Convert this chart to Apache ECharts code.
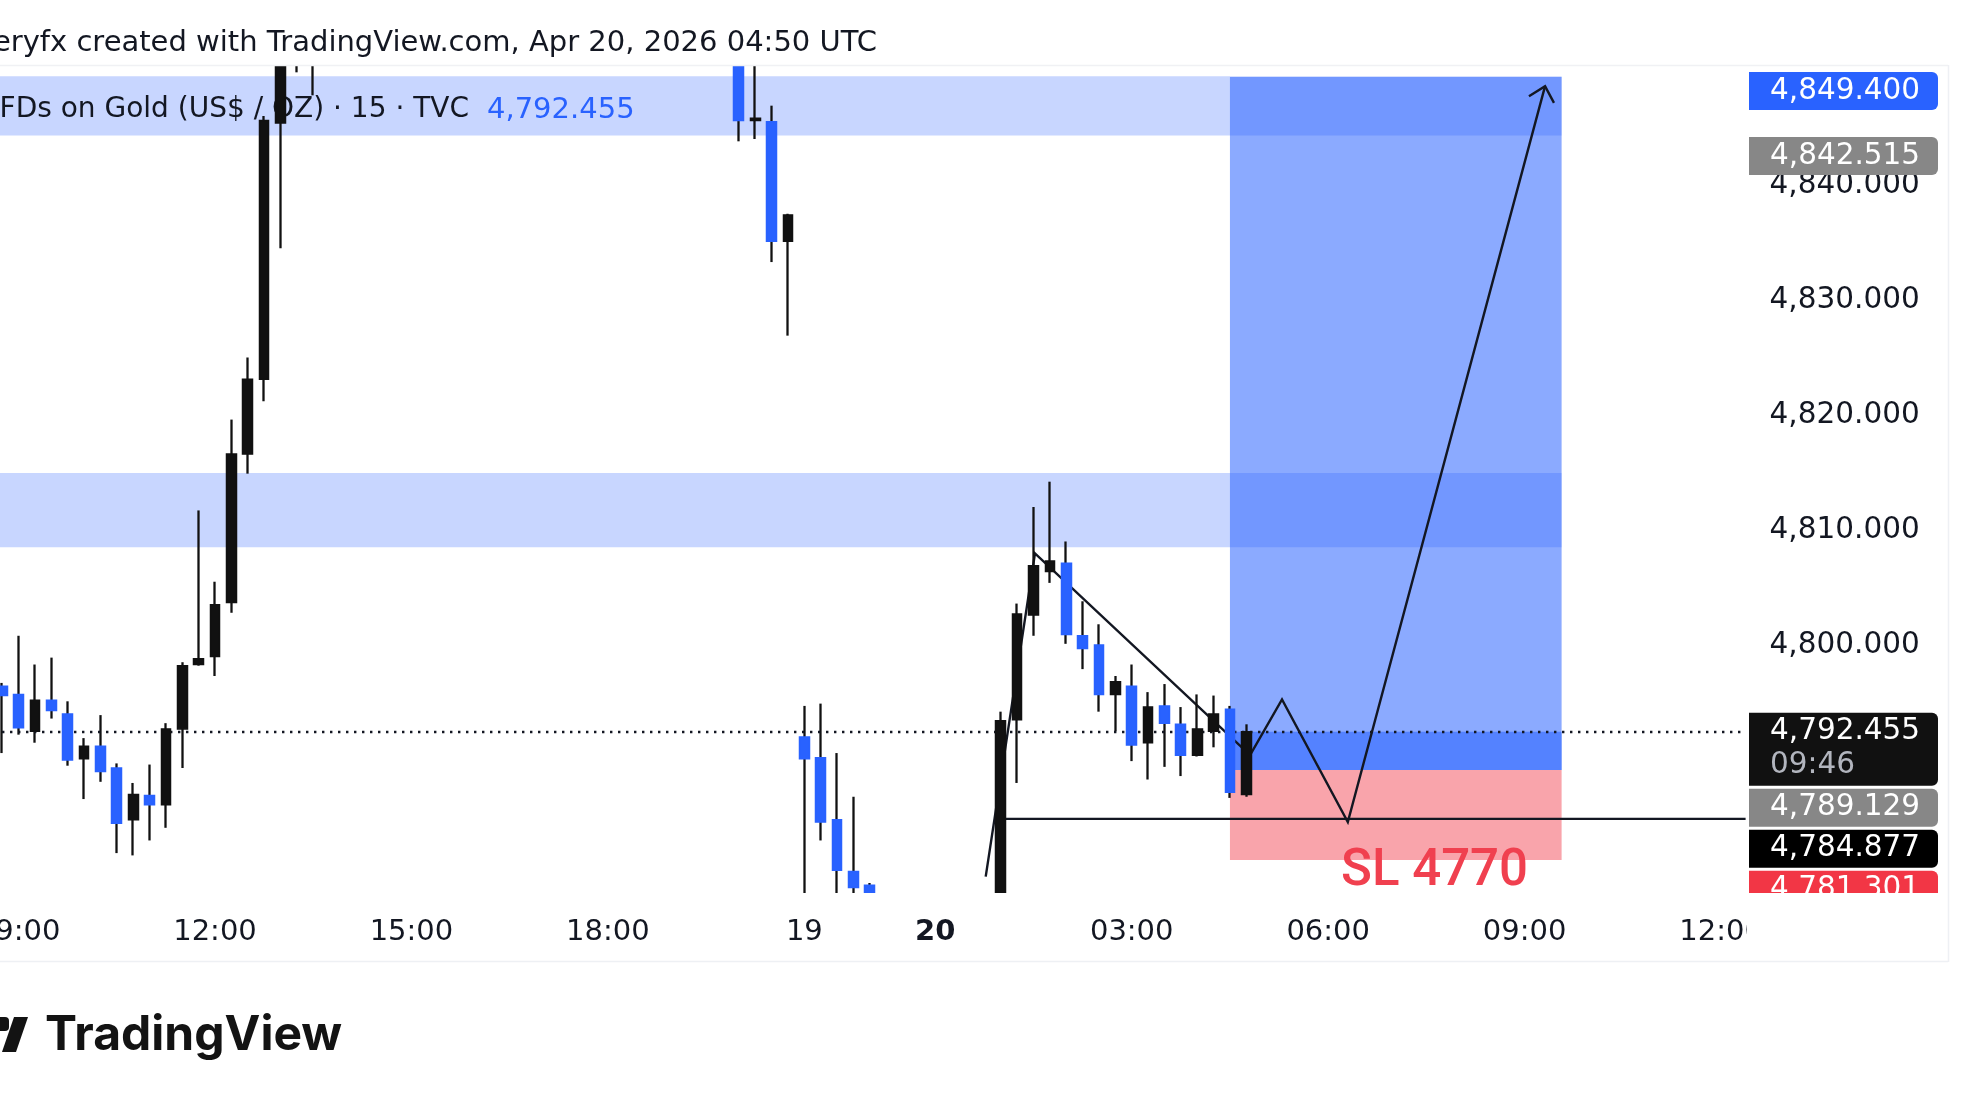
<!DOCTYPE html>
<html>
<head>
<meta charset="utf-8">
<script src="https://cdn.jsdelivr.net/npm/echarts@6/dist/echarts.min.js"></script>
<style>
  html, body { margin: 0; padding: 0; background: #fff; }
  #chart { width: 1973px; height: 1110px; }
</style>
</head>
<body>
<div id="chart"></div>
<script>
// 15m bars: Apr 17 08:45-20:45, Apr 19 22:00-23:45, Apr 20 00:00-12:15
const sessions = [['17', 35, 83], ['19', 88, 95], ['20', 0, 49]];
const barTimes = [];
sessions.forEach(([day, from, to]) => {
  for (let q = from; q <= to; q++) {
    const h = String(Math.floor(q / 4)).padStart(2, '0');
    const m = String((q % 4) * 15).padStart(2, '0');
    barTimes.push(day + ' ' + h + ':' + m);
  }
});

const tickTimes = ['17 09:00', '17 12:00', '17 15:00', '17 18:00', '19 22:00', '20 00:00', '20 03:00', '20 06:00', '20 09:00', '20 12:00'];
const tickTexts = ['09:00', '12:00', '15:00', '18:00', '19', '20', '03:00', '06:00', '09:00', '12:00'];
const boldTicks = ['20'];

// [open, close, low, high]
const ohlc = [
  [4796.4, 4795.6, 4790.6, 4796.7], [4795.7, 4792.8, 4792.2, 4800.8], [4792.5, 4795.2, 4791.5, 4798.3],
  [4795.2, 4794.3, 4793.6, 4798.9], [4794.0, 4790.0, 4789.5, 4795.1], [4790.1, 4791.2, 4786.6, 4791.9],
  [4791.2, 4789.0, 4788.1, 4793.9], [4789.3, 4784.5, 4781.9, 4789.7], [4784.8, 4787.0, 4781.7, 4788.0],
  [4786.9, 4786.1, 4783.0, 4789.6], [4786.1, 4792.7, 4784.1, 4793.2], [4792.7, 4798.2, 4789.3, 4798.5],
  [4798.3, 4798.8, 4798.2, 4811.7], [4799.0, 4803.5, 4797.3, 4805.5], [4803.7, 4816.6, 4802.8, 4819.6],
  [4816.6, 4823.1, 4814.9, 4825.0], [4823.1, 4845.6, 4821.2, 4846.0], [4845.4, 4856.0, 4834.5, 4858.5],
  [4856.0, 4858.2, 4849.8, 4861.0], [4858.2, 4862.0, 4847.8, 4864.5], [4862.0, 4866.5, 4859.8, 4868.2],
  [4866.5, 4864.1, 4862.7, 4869.4], [4864.1, 4870.3, 4863.5, 4872.0], [4870.3, 4873.8, 4868.9, 4875.6],
  [4873.8, 4871.2, 4869.7, 4876.4], [4871.2, 4868.0, 4866.1, 4872.9], [4868.0, 4869.9, 4865.4, 4871.8],
  [4869.9, 4874.5, 4868.6, 4876.0], [4874.5, 4878.2, 4873.1, 4880.7], [4878.2, 4876.0, 4874.4, 4879.5],
  [4876.0, 4872.3, 4870.8, 4877.2], [4872.3, 4873.9, 4869.5, 4875.1], [4873.9, 4869.4, 4867.6, 4874.8],
  [4869.4, 4866.2, 4864.9, 4871.0], [4866.2, 4867.8, 4863.8, 4869.3], [4867.8, 4864.5, 4862.2, 4868.9],
  [4864.5, 4861.3, 4859.7, 4866.0], [4861.3, 4863.0, 4858.9, 4864.6], [4863.0, 4859.4, 4857.8, 4864.1],
  [4859.4, 4860.8, 4856.6, 4862.3], [4860.8, 4857.1, 4855.9, 4862.0], [4857.1, 4858.6, 4854.8, 4859.9],
  [4858.6, 4855.3, 4853.6, 4860.2], [4855.3, 4856.9, 4852.8, 4858.1], [4856.9, 4853.2, 4851.6, 4858.4],
  [4853.2, 4845.6, 4843.8, 4854.0], [4845.6, 4845.8, 4844.0, 4851.5], [4845.5, 4835.1, 4833.3, 4846.9],
  [4835.1, 4837.4, 4826.9, 4837.5],
  [4792.0, 4790.1, 4776.5, 4794.7], [4790.2, 4784.6, 4783.0, 4794.9], [4784.8, 4780.4, 4777.2, 4790.6],
  [4780.3, 4778.9, 4776.8, 4786.8], [4779.1, 4776.6, 4775.2, 4779.3], [4776.6, 4774.1, 4772.5, 4777.4],
  [4774.1, 4771.8, 4770.2, 4775.9], [4771.8, 4773.5, 4769.6, 4774.6], [4773.5, 4770.9, 4769.3, 4774.8],
  [4770.9, 4772.6, 4768.5, 4773.9], [4772.6, 4775.2, 4771.4, 4776.8], [4775.2, 4774.6, 4772.0, 4777.3],
  [4774.6, 4793.4, 4773.8, 4794.2], [4793.5, 4802.7, 4788.0, 4803.6], [4802.6, 4806.9, 4800.8, 4812.0],
  [4806.4, 4807.3, 4805.4, 4814.2], [4807.1, 4800.9, 4800.1, 4809.0], [4800.8, 4799.7, 4797.9, 4803.8],
  [4800.0, 4795.7, 4794.2, 4801.8], [4795.7, 4796.8, 4792.5, 4797.3], [4796.4, 4791.3, 4789.9, 4798.3],
  [4791.5, 4794.6, 4788.3, 4795.9], [4794.7, 4793.2, 4789.4, 4796.6], [4793.1, 4790.4, 4788.6, 4794.6],
  [4790.4, 4792.7, 4790.3, 4795.7], [4792.5, 4794.0, 4791.1, 4795.6], [4794.4, 4787.2, 4786.7, 4794.7],
  [4787.0, 4792.455, 4786.8, 4793.1]
];
const lastPrice = 4792.455;

const yTicks = [4800, 4810, 4820, 4830, 4840];

// drawings, x in bar index units
const zones = [[-0.5, 95.26, 4844.3, 4849.45], [-0.5, 95.26, 4808.5, 4814.95]];
const boxFrom = 75.0, boxTo = 95.26;
const entryPrice = 4789.129, targetPrice = 4849.4, stopPrice = 4781.301;
const pathPoints = [[60.08, 4779.85], [63.09, 4807.97], [76.23, 4790.43], [78.18, 4795.26], [82.2, 4784.6], [94.25, 4848.6]];
const hLine = [61, 106.5, 4784.877];
const noteText = ['SL 4770', 87.5, 4780.26];

const priceTags = [
  { price: 4849.4, text: '4,849.400', bg: '#2962ff' },
  { price: 4842.515, text: '4,842.515', bg: '#878787' },
  { price: 4792.455, text: '4,792.455', sub: '09:46', bg: '#111111' },
  { price: 4789.129, text: '4,789.129', bg: '#878787' },
  { price: 4784.877, text: '4,784.877', bg: '#000000' },
  { price: 4781.301, text: '4,781.301', bg: '#f23645' }
];

const FONT = 'DejaVu Sans';
const INK = '#131722';
const BLUE = '#2962ff';

const chart = echarts.init(document.getElementById('chart'));

const padded = barTimes.map((t, i) => ohlc[i] || '-');
const bodies = barTimes.map((t, i) => {
  const d = ohlc[i];
  if (!d) return '-';
  return [d[0], d[1], Math.min(d[0], d[1]), Math.max(d[0], d[1])];
});

function rectSeries(rows, fills, z) {
  return {
    type: 'custom', xAxisIndex: 1, yAxisIndex: 0, z: z, clip: true, silent: true,
    encode: { x: [0, 1], y: [2, 3] },
    data: rows,
    renderItem: (params, api) => {
      const a = api.coord([api.value(0), api.value(3)]);
      const b = api.coord([api.value(1), api.value(2)]);
      return {
        type: 'rect',
        shape: { x: a[0], y: a[1], width: b[0] - a[0], height: b[1] - a[1] },
        style: { fill: fills[params.dataIndex % fills.length] }
      };
    }
  };
}

const option = {
  animation: false,
  backgroundColor: '#ffffff',
  grid: { left: -5.985, right: 227.4, top: 66, bottom: 217, containLabel: false, outerBoundsMode: 'none' },
  xAxis: [
    {
      type: 'category', data: barTimes, boundaryGap: true, z: 60,
      axisLine: { show: false }, axisTick: { show: false }, splitLine: { show: false },
      axisLabel: {
        interval: (i, v) => tickTimes.indexOf(v) >= 0,
        formatter: v => {
          const t = tickTexts[tickTimes.indexOf(v)];
          return boldTicks.indexOf(t) >= 0 ? '{b|' + t + '}' : t;
        },
        fontFamily: FONT, fontSize: 29, color: INK, margin: 25,
        rich: { b: { fontFamily: FONT, fontSize: 29, fontWeight: 'bold', color: INK } }
      }
    },
    { type: 'value', min: -0.5, max: 106.5, show: false }
  ],
  yAxis: {
    type: 'value', position: 'right', min: 4778.43, max: 4850.35,
    axisLine: { show: false }, axisTick: { show: false }, splitLine: { show: false },
    axisLabel: {
      customValues: yTicks,
      formatter: v => v.toLocaleString('en-US', { minimumFractionDigits: 3, maximumFractionDigits: 3 }),
      fontFamily: FONT, fontSize: 29.5, color: INK, margin: 24, align: 'left'
    }
  },
  series: [
    rectSeries(zones, ['rgba(41,98,255,0.26)'], 1),
    rectSeries([
      [boxFrom, boxTo, entryPrice, targetPrice],
      [boxFrom, boxTo, stopPrice, entryPrice],
      [boxFrom, boxTo, entryPrice, lastPrice]
    ], ['rgba(41,98,255,0.54)', 'rgba(242,54,69,0.45)', 'rgba(41,98,255,0.56)'], 1),
    {
      type: 'custom', xAxisIndex: 1, yAxisIndex: 0, z: 3, clip: true, silent: true,
      data: [hLine],
      renderItem: (params, api) => {
        const a = api.coord([api.value(0), api.value(2)]);
        const b = api.coord([api.value(1), api.value(2)]);
        return { type: 'line', shape: { x1: a[0], y1: a[1], x2: b[0], y2: b[1] }, style: { stroke: INK, lineWidth: 2.4 } };
      }
    },
    {
      type: 'custom', xAxisIndex: 1, yAxisIndex: 0, z: 3, clip: true, silent: true,
      data: [pathPoints[0]],
      renderItem: (params, api) => {
        const pts = pathPoints.map(p => api.coord(p));
        const tip = pts[pts.length - 1], prev = pts[pts.length - 2];
        const ang = Math.atan2(tip[1] - prev[1], tip[0] - prev[0]);
        const arm = s => [tip[0] - 19 * Math.cos(ang + s), tip[1] - 19 * Math.sin(ang + s)];
        return {
          type: 'group', children: [
            { type: 'polyline', shape: { points: pts }, style: { stroke: INK, lineWidth: 2.4, fill: null } },
            { type: 'polyline', shape: { points: [arm(0.75), tip, arm(-0.75)] }, style: { stroke: INK, lineWidth: 2.4, fill: null } }
          ]
        };
      }
    },
    {
      type: 'candlestick', name: 'wicks', xAxisIndex: 0, yAxisIndex: 0, z: 4, clip: true, silent: true,
      data: padded, barWidth: 1,
      itemStyle: { color: '#111111', color0: '#111111', borderColor: '#111111', borderColor0: '#111111', borderWidth: 2.3 }
    },
    {
      type: 'candlestick', name: 'bodies', xAxisIndex: 0, yAxisIndex: 0, z: 5, clip: true, silent: true,
      data: bodies, barWidth: 10.2,
      itemStyle: { color: '#111111', color0: BLUE, borderColor: '#111111', borderColor0: BLUE, borderWidth: 1.5 },
      markLine: {
        silent: true, symbol: 'none', animation: false,
        label: { show: false },
        lineStyle: { color: INK, width: 2.4, type: [2.4, 5.6] },
        data: [{ yAxis: lastPrice }]
      }
    },
    {
      type: 'custom', xAxisIndex: 1, yAxisIndex: 0, z: 6, silent: true,
      data: [[noteText[1], noteText[2]]],
      renderItem: (params, api) => {
        const p = api.coord([api.value(0), api.value(1)]);
        return {
          type: 'text', x: p[0], y: p[1],
          style: { text: noteText[0], fill: '#f0404f', fontFamily: 'Roboto', fontSize: 51, fontWeight: 500, align: 'center', verticalAlign: 'middle' }
        };
      }
    }
  ]
};

chart.setOption(option);

// price tags on the scale, stacked so they do not overlap
const graphics = [];
let prevBottom = 69;
priceTags.forEach(t => {
  const py = chart.convertToPixel({ yAxisIndex: 0 }, t.price);
  const h = t.sub ? 73 : 38;
  const top = Math.max(py - 19, prevBottom + 3);
  prevBottom = top + h;
  graphics.push({ type: 'rect', z: 100, shape: { x: 1749, y: top, width: 189, height: h, r: [0, 6, 6, 0] }, style: { fill: t.bg } });
  graphics.push({ type: 'text', z: 101, x: 1770, y: top + 19, style: { text: t.text, fill: '#ffffff', fontFamily: FONT, fontSize: 29.5, verticalAlign: 'middle' } });
  if (t.sub) {
    graphics.push({ type: 'text', z: 101, x: 1770, y: top + 53, style: { text: t.sub, fill: '#b2b5be', fontFamily: FONT, fontSize: 29.5, verticalAlign: 'middle' } });
  }
});

graphics.push(
  // covers: candles overflowing the pane are hidden like in the terminal
  { type: 'rect', z: 50, shape: { x: 0, y: 0, width: 1948, height: 65.5 }, style: { fill: '#ffffff' } },
  { type: 'rect', z: 50, shape: { x: 0, y: 893, width: 1948, height: 68 }, style: { fill: '#ffffff' } },
  { type: 'rect', z: 110, shape: { x: 1747, y: 893, width: 201, height: 68 }, style: { fill: '#ffffff' } },
  // frame lines
  { type: 'line', z: 111, shape: { x1: 0, y1: 65.5, x2: 1948, y2: 65.5 }, style: { stroke: '#f0f1f4', lineWidth: 1.5 } },
  { type: 'line', z: 111, shape: { x1: 0, y1: 961.5, x2: 1948, y2: 961.5 }, style: { stroke: '#eef0f4', lineWidth: 1.5 } },
  { type: 'line', z: 111, shape: { x1: 1948.5, y1: 65, x2: 1948.5, y2: 962 }, style: { stroke: '#eef0f4', lineWidth: 1.5 } },
  // header
  { type: 'text', z: 120, x: 877, y: 43, style: { text: 'eryfx created with TradingView.com, Apr 20, 2026 04:50 UTC', fill: INK, fontFamily: FONT, fontSize: 29, align: 'right', verticalAlign: 'middle' } },
  // legend
  { type: 'text', z: 2, x: 469, y: 110, style: { text: 'CFDs on Gold (US$ / OZ) · 15 · TVC', fill: INK, fontFamily: FONT, fontSize: 28, align: 'right', verticalAlign: 'middle' } },
  { type: 'text', z: 2, x: 487, y: 110, style: { text: '4,792.455', fill: BLUE, fontFamily: FONT, fontSize: 29, align: 'left', verticalAlign: 'middle' } },
  // logo
  { type: 'rect', z: 120, shape: { x: -6, y: 1017, width: 15, height: 14, r: [0, 4, 4, 0] }, style: { fill: '#131313' } },
  { type: 'polygon', z: 120, shape: { points: [[14, 1017], [28, 1017], [16, 1052], [2, 1052]] }, style: { fill: '#131313' } },
  { type: 'text', z: 120, x: 45, y: 1036, style: { text: 'TradingView', fill: '#131313', fontFamily: 'Inter', fontSize: 48, fontWeight: 'bold', align: 'left', verticalAlign: 'middle' } }
);

chart.setOption({ graphic: graphics });
</script>
</body>
</html>
